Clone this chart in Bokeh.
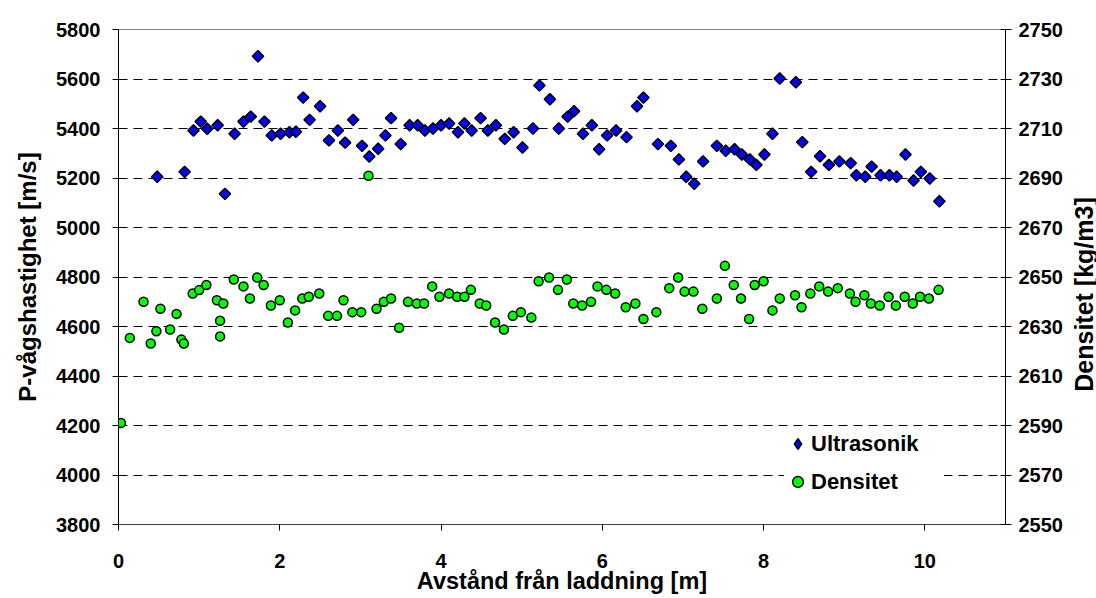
from bokeh.plotting import figure
from bokeh.layouts import row
from bokeh.models import Range1d, LinearAxis, FixedTicker, Legend, LegendItem, Label
from bokeh.embed import file_html
from bokeh.resources import INLINE
import numpy as np

# ---- data ----
ultra_x = [0.48, 0.82, 0.93, 1.02, 1.10, 1.23, 1.32, 1.44, 1.55, 1.64, 1.73, 1.81, 1.90, 2.01,
           2.12, 2.20, 2.29, 2.37, 2.50, 2.61, 2.72, 2.81, 2.91, 3.02, 3.11, 3.22, 3.31, 3.38,
           3.50, 3.61, 3.71, 3.80, 3.90, 4.00, 4.10, 4.21, 4.29, 4.38, 4.49, 4.58, 4.68, 4.79,
           4.90, 5.01, 5.14, 5.22, 5.35, 5.46, 5.57, 5.65, 5.76, 5.87, 5.96, 6.06, 6.17, 6.30,
           6.43, 6.51, 6.69, 6.85, 6.95, 7.04, 7.14, 7.25, 7.42, 7.53, 7.64, 7.73, 7.83, 7.91,
           8.01, 8.11, 8.20, 8.40, 8.48, 8.59, 8.70, 8.81, 8.94, 9.08, 9.15, 9.26, 9.34, 9.45,
           9.56, 9.65, 9.76, 9.86, 9.95, 10.06, 10.18]
ultra_v = [5205, 5225, 5392, 5428, 5399, 5413, 5136, 5379, 5428, 5448, 5692, 5428, 5372, 5379,
           5385, 5387, 5525, 5435, 5490, 5352, 5392, 5343, 5435, 5330, 5287, 5318, 5372, 5442,
           5337, 5413, 5413, 5392, 5400, 5413, 5420, 5385, 5420, 5392, 5442, 5392, 5413, 5358,
           5385, 5323, 5400, 5574, 5518, 5400, 5448, 5470, 5379, 5413, 5316, 5372, 5392, 5365,
           5490, 5525, 5337, 5330, 5275, 5205, 5177, 5267, 5330, 5310, 5316, 5295, 5275, 5253,
           5295, 5379, 5602, 5587, 5345, 5225, 5288, 5253, 5267, 5260, 5211, 5205, 5246, 5211,
           5211, 5205, 5295, 5190, 5225, 5198, 5106]

dens_x = [0.03, 0.14, 0.31, 0.40, 0.47, 0.52, 0.64, 0.72, 0.78, 0.81, 0.92, 1.00, 1.09, 1.22,
          1.26, 1.26, 1.30, 1.43, 1.55, 1.63, 1.72, 1.80, 1.89, 2.00, 2.10, 2.19, 2.28, 2.36,
          2.49, 2.60, 2.71, 2.79, 2.90, 3.01, 3.10, 3.20, 3.29, 3.38, 3.48, 3.59, 3.70, 3.79,
          3.89, 3.98, 4.10, 4.20, 4.29, 4.37, 4.48, 4.56, 4.67, 4.78, 4.89, 4.99, 5.12, 5.21,
          5.34, 5.45, 5.56, 5.64, 5.75, 5.86, 5.94, 6.05, 6.16, 6.29, 6.41, 6.51, 6.67, 6.83,
          6.94, 7.02, 7.13, 7.24, 7.42, 7.52, 7.63, 7.72, 7.82, 7.89, 8.00, 8.11, 8.20, 8.39,
          8.47, 8.58, 8.69, 8.80, 8.92, 9.07, 9.14, 9.25, 9.33, 9.44, 9.55, 9.64, 9.75, 9.85,
          9.94, 10.05, 10.17]
dens_v = [2591.0, 2625.4, 2640.0, 2623.1, 2628.1, 2637.2, 2628.8, 2635.1, 2624.7, 2623.1, 2643.3,
          2644.7, 2646.8, 2640.6, 2632.3, 2626.0, 2639.3, 2649.0, 2646.2, 2641.3, 2649.8, 2646.8,
          2638.5, 2640.6, 2631.6, 2636.5, 2641.3, 2642.0, 2643.3, 2634.3, 2634.3, 2640.6, 2635.8,
          2635.8, 2690.9, 2637.2, 2640.0, 2641.3, 2629.5, 2640.0, 2639.3, 2639.3, 2646.2, 2642.0,
          2643.3, 2642.0, 2642.0, 2644.8, 2639.3, 2638.5, 2631.6, 2628.8, 2634.3, 2635.8, 2633.6,
          2648.3, 2649.8, 2644.8, 2649.0, 2639.3, 2638.5, 2640.0, 2646.2, 2644.8, 2643.3, 2637.8,
          2639.3, 2633.0, 2635.8, 2645.5, 2649.8, 2644.1, 2644.1, 2637.2, 2641.3, 2654.5, 2646.8,
          2641.3, 2633.0, 2646.8, 2648.3, 2636.5, 2641.3, 2642.6, 2637.8, 2643.3, 2646.2, 2644.1,
          2645.5, 2643.3, 2640.0, 2642.6, 2639.3, 2638.5, 2642.0, 2638.5, 2642.0, 2639.3, 2642.0,
          2641.3, 2644.8]

x_ticks = [0, 2, 4, 6, 8, 10]
y_ticks = [3800, 4000, 4200, 4400, 4600, 4800, 5000, 5200, 5400, 5600, 5800]
dens_ticks = [2550, 2570, 2590, 2610, 2630, 2650, 2670, 2690, 2710, 2730, 2750]

x_label = "Avstånd från laddning [m]"
y_label = "P-vågshastighet [m/s]"
y2_label = "Densitet [kg/m3]"
names = ["Ultrasonik", "Densitet"]

FONT = "Liberation Sans"

p = figure(width=1070, height=598, output_backend="svg", toolbar_location=None,
           x_range=Range1d(0, 11), y_range=Range1d(3800, 5800),
           min_border_left=118, min_border_right=65, min_border_top=29, min_border_bottom=74)
p.extra_y_ranges = {"dens": Range1d(2550, 2750)}
p.background_fill_color = "white"
p.border_fill_color = "white"
p.outline_line_color = "#8a8a8a"
p.outline_line_width = 1

for ax in [p.xaxis[0], p.yaxis[0]]:
    ax.major_label_text_font = FONT
    ax.major_label_text_font_style = "bold"
    ax.major_label_text_font_size = "20px"
    ax.major_label_text_color = "black"
    ax.axis_label_text_font = FONT
    ax.axis_label_text_font_style = "bold"
    ax.axis_label_text_color = "black"
    ax.minor_tick_line_color = None
    ax.major_tick_in = 0
    ax.major_tick_out = 6
    ax.axis_line_color = "black"
    ax.major_tick_line_color = "black"

p.xaxis[0].ticker = FixedTicker(ticks=x_ticks)
p.xaxis[0].axis_label = x_label
p.xaxis[0].axis_label_text_font_size = "23.5px"
p.xaxis[0].major_label_standoff = 23
p.xaxis[0].axis_label_standoff = -3
p.xaxis[0].axis_line_color = "#404040"

p.yaxis[0].ticker = FixedTicker(ticks=y_ticks)
p.yaxis[0].axis_label = y_label
p.yaxis[0].axis_label_text_font_size = "24px"
p.yaxis[0].major_label_standoff = 12
p.yaxis[0].axis_label_standoff = 12

y2 = LinearAxis(y_range_name="dens", ticker=FixedTicker(ticks=dens_ticks))
y2.major_label_text_font = FONT
y2.major_label_text_font_style = "bold"
y2.major_label_text_font_size = "20px"
y2.major_label_text_color = "black"
y2.minor_tick_line_color = None
y2.major_tick_in = 5
y2.major_tick_out = 6
y2.major_label_standoff = 7
y2.axis_line_color = "black"
p.add_layout(y2, "right")

p.xgrid.visible = False
p.ygrid.ticker = FixedTicker(ticks=y_ticks)
p.ygrid.grid_line_color = "black"
p.ygrid.grid_line_dash = "9 6"
p.ygrid.grid_line_width = 1

r1 = p.scatter(ultra_x, ultra_v, marker="square", angle=np.pi / 4, size=8,
               fill_color="#0000ff", line_color="black", line_width=1.5)
r2 = p.scatter(dens_x, dens_v, marker="circle", size=9, y_range_name="dens",
               fill_color="#00ff00", line_color="black", line_width=1.5)
# legend key for the diamond series (a single non-plotted NaN point)
r1_key = p.scatter(x=[np.nan], y=[np.nan], marker="diamond",
                   fill_color="#0000ff", line_color="black", line_width=1.5)

legend = Legend(items=[LegendItem(label=names[0], renderers=[r1_key]),
                       LegendItem(label=names[1], renderers=[r2])],
                location=(666, 29))
legend.label_text_font = FONT
legend.label_text_font_style = "bold"
legend.label_text_font_size = "22px"
legend.label_text_color = "black"
legend.glyph_width = 27
legend.glyph_height = 27
legend.label_height = 27
legend.label_width = 133
legend.label_standoff = 0
legend.spacing = 11
legend.padding = 20
legend.margin = 0
legend.border_line_color = None
legend.background_fill_color = "white"
legend.background_fill_alpha = 1
p.add_layout(legend, "center")

# narrow strip on the right holding the secondary axis title (reads bottom-to-top)
p2 = figure(width=26, height=598, output_backend="svg", toolbar_location=None,
            x_range=Range1d(0, 1), y_range=Range1d(0, 1),
            min_border_left=0, min_border_right=0, min_border_top=0, min_border_bottom=0)
p2.axis.visible = False
p2.grid.visible = False
p2.outline_line_color = None
p2.background_fill_color = "white"
p2.border_fill_color = "white"
p2.add_layout(Label(x=13, y=230, x_units="screen", y_units="screen", text=y2_label,
                    angle=90, angle_units="deg", text_align="center", text_baseline="middle",
                    text_font=FONT, text_font_style="bold", text_font_size="25px",
                    text_color="black"))

layout = row(p, p2)
open("out.html", "w").write(file_html(layout, INLINE))
